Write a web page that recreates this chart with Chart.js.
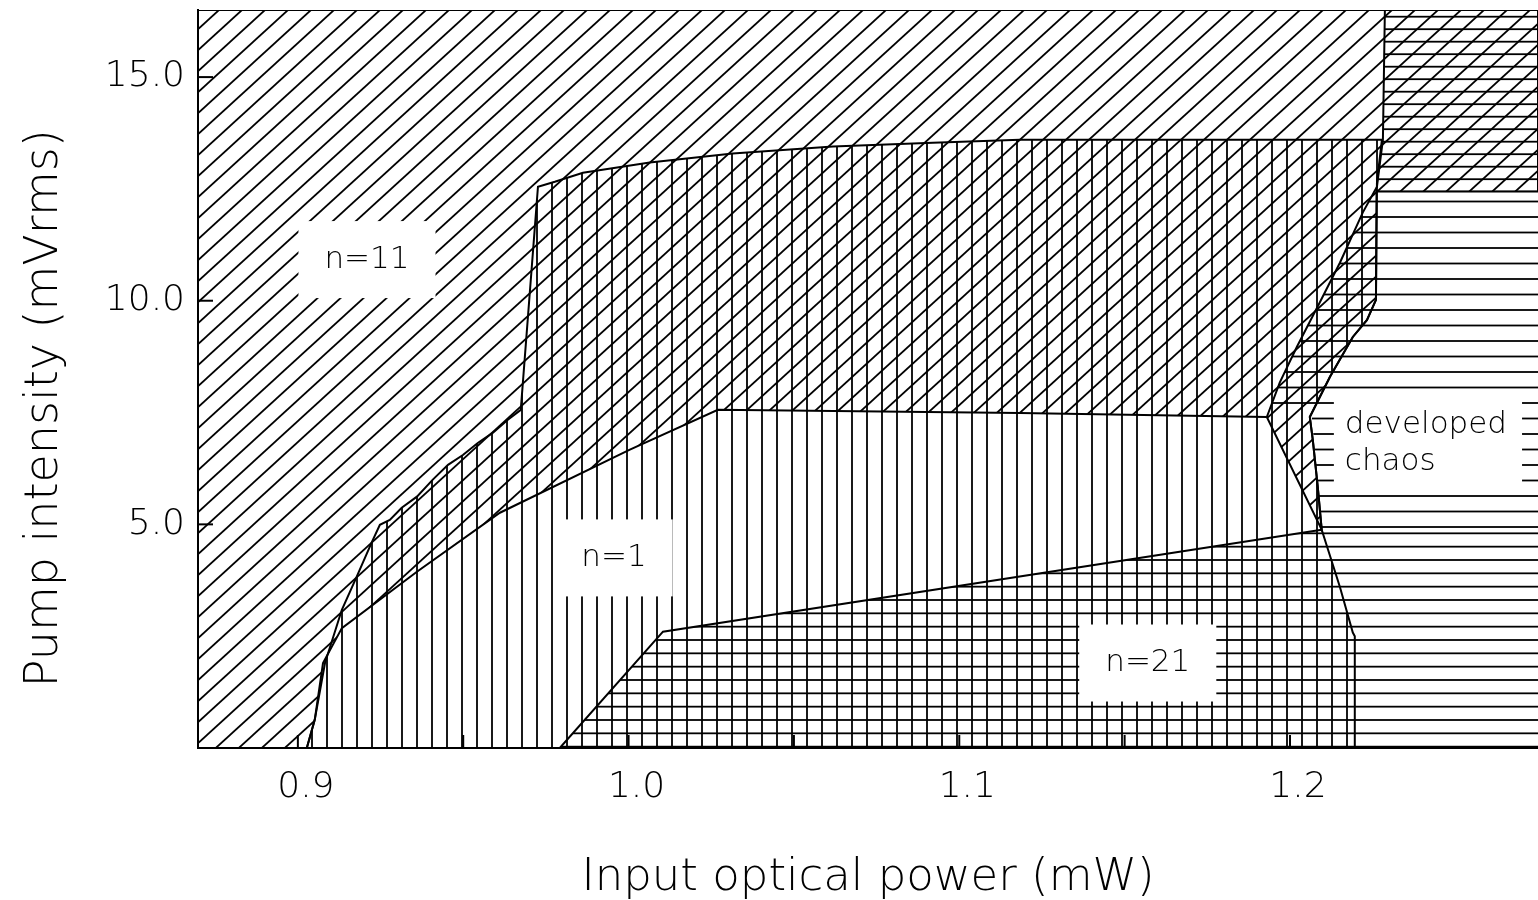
<!DOCTYPE html>
<html>
<head>
<meta charset="utf-8">
<title>Pump intensity vs input optical power</title>
<script src="https://cdn.jsdelivr.net/npm/chart.js@4.4.0/dist/chart.umd.min.js"></script>
<style>
  html, body { margin: 0; padding: 0; background: #fff; }
</style>
</head>
<body>
<canvas id="chart" width="1538" height="900"></canvas>
<script>
// axis ranges (mW, mVrms)
const xMin = 0.8698, xMax = 1.275;
const yMin = 0, yMax = 16.5;
const xTickValues = [0.9, 1.0, 1.1, 1.2];
const yTickValues = [5, 10, 15];
const xTickMarks = [0.9, 0.95, 1.0, 1.05, 1.1, 1.15, 1.2];

// n = 11 region (diagonal hatch)
const n11X = [0.8698, 0.8698, 1.275, 1.275, 1.2262, 1.2260, 1.2233, 1.2190, 1.2121, 1.2060, 1.2069, 1.2084, 1.2096,
  1.1930, 1.1183, 1.0270, 1.0004, 0.9611, 0.9360, 0.9133, 0.9076, 0.9051, 0.9027, 0.8698];
const n11Y = [0, 16.5, 16.5, 12.44, 12.44, 10.02, 9.57, 9.19, 8.30, 7.40, 6.89, 5.84, 4.88,
  7.40, 7.49, 7.56, 6.67, 5.26, 3.94, 2.68, 1.90, 0.63, 0, 0];

// n = 1 region (vertical hatch)
const n1X = [0.9027, 0.9051, 0.9082, 0.9133, 0.9178, 0.9224, 0.9248, 0.9278, 0.9314, 0.9360, 0.9408, 0.9454,
  0.9499, 0.9544, 0.9590, 0.9635, 0.9674, 0.9726, 0.9777, 0.9862, 1.0064, 1.0315, 1.0618, 1.0920, 1.1183,
  1.2278, 1.2263, 1.2260, 1.2233, 1.2190, 1.2121, 1.2060, 1.2069, 1.2084, 1.2096, 1.2151, 1.2190, 1.2196,
  1.2196, 0.9027];
const n1Y = [0, 0.63, 1.90, 3.09, 3.83, 4.61, 4.99, 5.10, 5.37, 5.62, 6.00, 6.33,
  6.55, 6.82, 7.05, 7.34, 7.56, 12.55, 12.66, 12.86, 13.09, 13.29, 13.45, 13.53, 13.60,
  13.60, 12.64, 10.02, 9.57, 9.19, 8.30, 7.40, 6.89, 5.84, 4.88, 3.60, 2.58, 2.50,
  0, 0];

// n = 21 region and lower chaos band (dense horizontal hatch)
const n21X = [0.9792, 1.0104, 1.2096, 1.275, 1.275, 0.9792];
const n21Y = [0, 2.60, 4.88, 4.88, 0, 0];

// developed chaos (sparser horizontal hatch)
const chaosX = [1.2096, 1.2066, 1.1930, 1.1969, 1.2021, 1.2090, 1.2151, 1.2220, 1.2258,
  1.275, 1.275, 1.2096];
const chaosY = [4.88, 7.40, 7.40, 8.17, 8.97, 9.96, 10.85, 11.97, 12.44,
  12.44, 4.88, 4.88];

// chaos overlapping n = 11, top right corner
const chaosTopX = [1.2258, 1.2263, 1.2281, 1.2287, 1.275, 1.275, 1.2258];
const chaosTopY = [12.44, 12.55, 13.60, 16.5, 16.5, 12.44, 12.44];

// boundary curves not already outlined by the n=1 / n=11 regions
const chaosEdgeX = [1.1930, 1.1969, 1.2021, 1.2090, 1.2151, 1.2220, 1.2263, 1.2281, 1.2287];
const chaosEdgeY = [7.40, 8.17, 8.97, 9.96, 10.85, 11.97, 12.55, 13.60, 16.5];
const n21EdgeX = [0.9792, 1.0104, 1.2096];
const n21EdgeY = [0, 2.60, 4.88];

// region labels
const labelText = ['n=11', 'n=1', 'n=21', 'developed\nchaos'];
const labelX = [0.9209, 0.9956, 1.1570, 1.2166];
const labelY = [10.92, 4.25, 1.90, 6.81];
const labelAlign = ['center', 'center', 'center', 'left'];

const FONT = '"DejaVu Sans", Lato, sans-serif';

function points(xs, ys) {
  return xs.map((x, i) => ({ x: x, y: ys[i] }));
}

function hatch(w, h, draw) {
  const c = document.createElement('canvas');
  c.width = w;
  c.height = h;
  const g = c.getContext('2d');
  g.strokeStyle = '#000';
  g.lineWidth = 1.8;
  draw(g, w, h);
  return g.createPattern(c, 'repeat');
}

function rows(w, h, ys) {
  return hatch(w, h, (g) => {
    ys.forEach(y => {
      g.beginPath();
      g.moveTo(0, y);
      g.lineTo(w, y);
      g.stroke();
    });
  });
}

const ctx = document.getElementById('chart').getContext('2d');

// "/" lines, one per tile, continued through the neighbours
const diagonal = hatch(23, 21, (g, w, h) => {
  for (let k = -2; k <= 1; k++) {
    g.beginPath();
    g.moveTo(k * w, 2 * h);
    g.lineTo(k * w + 3 * w, -h);
    g.stroke();
  }
});
const vertical = hatch(15, 15, (g) => {
  g.beginPath();
  g.moveTo(12, 0);
  g.lineTo(12, 15);
  g.stroke();
});
const horizontal = rows(10, 40, [0, 13.33, 26.67, 40]);
const horizontalWide = rows(10, 31, [0, 15.5, 31]);
const horizontalTight = rows(10, 25, [4.2, 16.7]);

function region(xs, ys, pattern, border) {
  return {
    data: points(xs, ys),
    fill: 'shape',
    backgroundColor: pattern,
    borderColor: '#000',
    borderWidth: border,
    pointRadius: 0,
    tension: 0
  };
}

function edge(xs, ys) {
  return {
    data: points(xs, ys),
    fill: false,
    borderColor: '#000',
    borderWidth: 2,
    pointRadius: 0,
    tension: 0
  };
}

// white boxes + text for the region names, and inward tick marks
const regionText = {
  id: 'regionText',
  afterDatasetsDraw(chart) {
    const c = chart.ctx;
    const sx = chart.scales.x, sy = chart.scales.y;
    const area = chart.chartArea;
    c.save();

    c.strokeStyle = '#000';
    c.lineWidth = 2;
    xTickMarks.forEach(v => {
      const px = sx.getPixelForValue(v);
      c.beginPath();
      c.moveTo(px, area.bottom);
      c.lineTo(px, area.bottom - 13);
      c.stroke();
    });
    yTickValues.forEach(v => {
      const py = sy.getPixelForValue(v);
      c.beginPath();
      c.moveTo(area.left, py);
      c.lineTo(area.left + 15, py);
      c.stroke();
    });

    c.font = '200 31px ' + FONT;
    c.textBaseline = 'middle';
    labelText.forEach((t, i) => {
      const lines = t.split('\n');
      const lh = 37;
      const w = Math.max(...lines.map(s => c.measureText(s).width));
      const px = sx.getPixelForValue(labelX[i]);
      const py = sy.getPixelForValue(labelY[i]);
      const multi = lines.length > 1;
      const padX = multi ? 11 : 26;
      const padY = multi ? 7 : 20;
      const h = lines.length * lh;
      const left = labelAlign[i] === 'left' ? px : px - w / 2;
      c.fillStyle = '#fff';
      c.fillRect(left - padX, py - h / 2 - padY, w + 2 * padX + (multi ? 4 : 0), h + 2 * padY);
      c.fillStyle = '#000';
      c.textAlign = 'left';
      lines.forEach((s, j) => {
        c.fillText(s, left, py - h / 2 + lh * (j + 0.5));
      });
    });
    c.restore();
  }
};

new Chart(ctx, {
  type: 'line',
  data: {
    datasets: [
      region(n11X, n11Y, diagonal, 2),
      region(n1X, n1Y, vertical, 2),
      region(n21X, n21Y, horizontal, 0),
      region(chaosX, chaosY, horizontalWide, 0),
      region(chaosTopX, chaosTopY, horizontalTight, 0),
      edge(chaosEdgeX, chaosEdgeY),
      edge(n21EdgeX, n21EdgeY)
    ]
  },
  options: {
    responsive: false,
    animation: false,
    events: [],
    layout: { padding: { top: 10, right: 0, bottom: 0, left: 0 } },
    plugins: {
      legend: { display: false },
      tooltip: { enabled: false }
    },
    scales: {
      x: {
        type: 'linear',
        min: xMin,
        max: xMax,
        afterBuildTicks: s => { s.ticks = xTickValues.map(v => ({ value: v })); },
        afterFit: s => {
          s.height = 152;
          s.paddingLeft = 0;
          s.paddingRight = 0;
        },
        grid: { display: false, drawTicks: false },
        border: { display: true, color: '#000', width: 2 },
        ticks: {
          color: '#000',
          font: { family: FONT, size: 36, weight: 200 },
          padding: 18,
          labelOffset: 8,
          maxRotation: 0,
          autoSkip: false,
          callback: v => v.toFixed(1)
        },
        title: {
          display: true,
          text: 'Input optical power (mW)',
          color: '#000',
          font: { family: FONT, size: 45, weight: 200 },
          padding: { top: 0, bottom: -5 }
        }
      },
      y: {
        type: 'linear',
        min: yMin,
        max: yMax,
        afterBuildTicks: s => { s.ticks = yTickValues.map(v => ({ value: v })); },
        afterFit: s => {
          s.width = 198;
          s.paddingTop = 0;
          s.paddingBottom = 0;
        },
        grid: { display: false, drawTicks: false },
        border: { display: true, color: '#000', width: 2 },
        ticks: {
          color: '#000',
          font: { family: FONT, size: 36, weight: 200 },
          padding: 13,
          callback: v => v.toFixed(1)
        },
        title: {
          display: true,
          text: 'Pump intensity (mVrms)    ',
          color: '#000',
          font: { family: FONT, size: 46, weight: 200 },
          padding: { top: 17, bottom: 0 }
        }
      }
    }
  },
  plugins: [regionText]
});
</script>
</body>
</html>
